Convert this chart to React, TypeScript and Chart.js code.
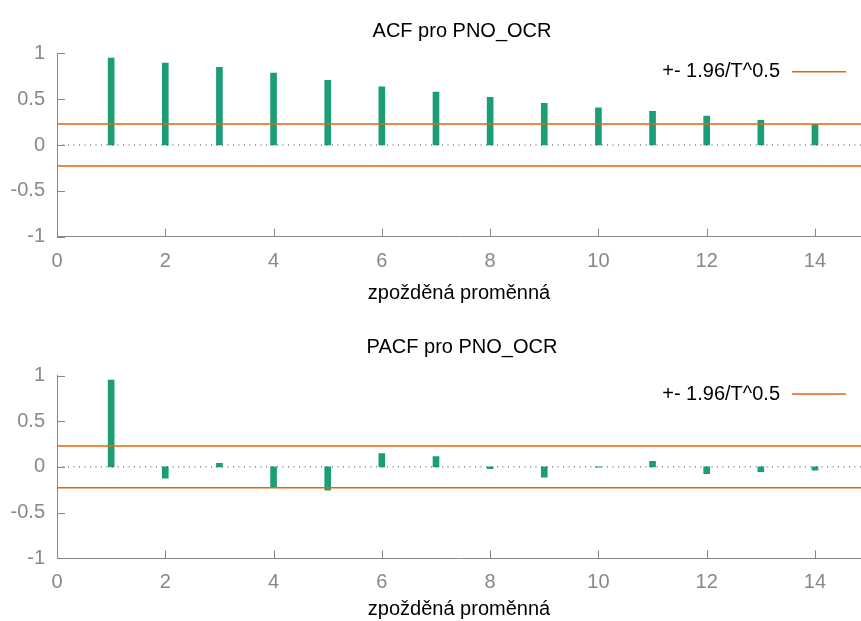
import React, { useEffect, useRef } from "react";
import { Chart, registerables } from "chart.js";

Chart.register(...registerables);

// ---- data ----
const lags = [1, 2, 3, 4, 5, 6, 7, 8, 9, 10, 11, 12, 13, 14];
const acfValues = [0.949, 0.894, 0.847, 0.785, 0.705, 0.633, 0.578, 0.52, 0.455, 0.404, 0.367, 0.316, 0.269, 0.222];
const pacfValues = [0.949, -0.124, 0.04, -0.219, -0.255, 0.146, 0.113, -0.018, -0.113, -0.003, 0.062, -0.073, -0.051, -0.036];
const bandValue = 0.228;
const xTicks = [0, 2, 4, 6, 8, 10, 12, 14];
const yTicks = [-1, -0.5, 0, 0.5, 1];
const xMin = 0;
const xMax = 14.85;
const legendLabel = "+- 1.96/T^0.5";
const xAxisTitle = "zpožděná proměnná";
const acfTitle = "ACF pro PNO_OCR";
const pacfTitle = "PACF pro PNO_OCR";

const FONT = "'Liberation Sans', Arial, Helvetica, sans-serif";
const GREEN = "#1b9e77";
const ORANGE = "#e3640f";
const GRAY = "#888888";

type PanelLayout = {
  height: number;
  plotTop: number;
  titleBaseline: number;
  xAxisHeight: number;
  tickPad: number;
  xTitlePad: number;
  legendY: number;
};

const decorPlugin = {
  id: "decor",
  afterDatasetsDraw(chart: any, _args: any, opts: any) {
    const { ctx, chartArea, scales } = chart;
    const xs = scales.x;
    const ys = scales.y;
    ctx.save();
    ctx.strokeStyle = GRAY;
    ctx.lineWidth = 1;
    // inward tick marks
    xTicks.forEach((v) => {
      if (v === xMin) return;
      const px = Math.round(xs.getPixelForValue(v)) + 0.5;
      ctx.beginPath();
      ctx.moveTo(px, chartArea.bottom);
      ctx.lineTo(px, chartArea.bottom - 8);
      ctx.stroke();
    });
    yTicks.forEach((v) => {
      const py = Math.round(ys.getPixelForValue(v)) + 0.5;
      ctx.beginPath();
      ctx.moveTo(chartArea.left, py);
      ctx.lineTo(chartArea.left + 8, py);
      ctx.stroke();
    });
    // title centred over the plot area
    ctx.font = `20px ${FONT}`;
    ctx.fillStyle = "#000";
    ctx.textAlign = "center";
    ctx.textBaseline = "alphabetic";
    ctx.fillText(opts.title, (chartArea.left + chartArea.right) / 2 + 3, opts.titleBaseline);
    // legend
    const y = opts.legendY;
    ctx.textAlign = "right";
    ctx.textBaseline = "middle";
    ctx.fillText(opts.label, chartArea.right - 81, y);
    ctx.strokeStyle = ORANGE;
    ctx.lineWidth = 1.5;
    ctx.beginPath();
    ctx.moveTo(chartArea.right - 69, y);
    ctx.lineTo(chartArea.right - 15, y);
    ctx.stroke();
    ctx.restore();
  },
};

function CorrPanel({ title, values, layout }: { title: string; values: number[]; layout: PanelLayout }) {
  const ref = useRef<HTMLCanvasElement | null>(null);
  useEffect(() => {
    if (!ref.current) return;
    const tickFont = { family: FONT, size: 20 };
    const chart = new Chart(ref.current, {
      type: "bar",
      data: {
        datasets: [
          {
            type: "line",
            label: legendLabel,
            data: [
              { x: xMin, y: bandValue },
              { x: xMax, y: bandValue },
            ],
            borderColor: ORANGE,
            borderWidth: 1.5,
            pointRadius: 0,
            order: 0,
          } as any,
          {
            type: "line",
            label: "lower",
            data: [
              { x: xMin, y: -bandValue },
              { x: xMax, y: -bandValue },
            ],
            borderColor: ORANGE,
            borderWidth: 1.5,
            pointRadius: 0,
            order: 0,
          } as any,
          {
            type: "line",
            label: "zero",
            data: [
              { x: xMin, y: 0 },
              { x: xMax, y: 0 },
            ],
            borderColor: "#444444",
            borderWidth: 1,
            borderDash: [1, 4.5],
            pointRadius: 0,
            order: 1,
          } as any,
          {
            type: "bar",
            label: title,
            data: lags.map((x, i) => ({ x, y: values[i] })),
            backgroundColor: GREEN,
            barThickness: 6,
            order: 2,
          } as any,
        ],
      },
      options: {
        animation: false,
        responsive: false,
        maintainAspectRatio: false,
        layout: { padding: { top: layout.plotTop, left: 0, right: 0, bottom: 0 } },
        plugins: {
          legend: { display: false },
          tooltip: { enabled: false },
          title: { display: false },
          decor: { legendY: layout.legendY, label: legendLabel, title, titleBaseline: layout.titleBaseline },
        } as any,
        scales: {
          x: {
            type: "linear",
            min: xMin,
            max: xMax,
            offset: false,
            afterBuildTicks: (s: any) => {
              s.ticks = xTicks.map((v) => ({ value: v }));
            },
            afterFit: (s: any) => {
              s.height = layout.xAxisHeight;
            },
            ticks: {
              color: GRAY,
              font: tickFont,
              padding: layout.tickPad,
              maxRotation: 0,
              callback: (v: any) => String(v),
            },
            grid: { display: false, drawTicks: false },
            border: { display: true, color: GRAY, width: 1 },
            title: {
              display: true,
              text: xAxisTitle,
              color: "#000",
              font: { family: FONT, size: 20 },
              padding: { top: layout.xTitlePad, bottom: layout.xTitlePad },
            },
          },
          y: {
            type: "linear",
            min: -1,
            max: 1,
            afterBuildTicks: (s: any) => {
              s.ticks = yTicks.map((v) => ({ value: v }));
            },
            afterFit: (s: any) => {
              s.width = 57;
            },
            ticks: {
              color: GRAY,
              font: tickFont,
              padding: 12,
              callback: (v: any) => String(v),
            },
            grid: { display: false, drawTicks: false },
            border: { display: true, color: GRAY, width: 1 },
          },
        },
      } as any,
      plugins: [decorPlugin],
    });
    return () => chart.destroy();
  }, [title, values, layout]);
  return (
    <canvas
      ref={ref}
      width={861}
      height={layout.height}
      style={{ display: "block", width: 861, height: layout.height }}
    />
  );
}

const topLayout: PanelLayout = {
  height: 310,
  plotTop: 53.3,
  titleBaseline: 37.3,
  xAxisHeight: 73.3,
  tickPad: 12.5,
  xTitlePad: 5,
  legendY: 71.7,
};

const bottomLayout: PanelLayout = {
  height: 311,
  plotTop: 65.5,
  titleBaseline: 43.3,
  xAxisHeight: 62.7,
  tickPad: 12,
  xTitlePad: 0,
  legendY: 84,
};

export default function App() {
  return (
    <div style={{ position: "absolute", left: 0, top: 0, width: 861, height: 621, background: "#fff" }}>
      <CorrPanel title={acfTitle} values={acfValues} layout={topLayout} />
      <CorrPanel title={pacfTitle} values={pacfValues} layout={bottomLayout} />
    </div>
  );
}
